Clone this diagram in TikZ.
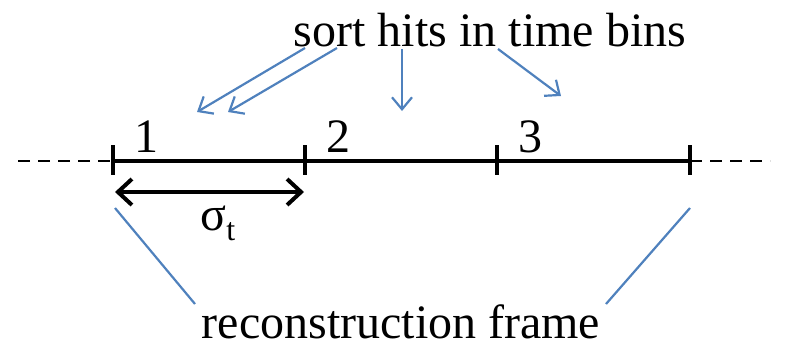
\documentclass[tikz,border=0pt]{standalone}
\usepackage{fontspec}
\setmainfont{Liberation Serif}
\usepackage{xcolor}
\usetikzlibrary{arrows.meta,positioning,calc}
\definecolor{hitblue}{RGB}{79,129,189}

\begin{document}
\begin{tikzpicture}[x=0.5pt,y=-0.5pt,
    lbl/.style={inner sep=0pt,font=\fontsize{24}{28}\selectfont},
    binline/.style={line width=2pt,black},
    tick/.style={line width=1.6pt,black},
    sortarrow/.style={hitblue,line width=1.1pt,-{Straight Barb[length=6pt,width=10pt]}},
    frameline/.style={hitblue,line width=1.1pt}]
    \useasboundingbox (0,0) rectangle (786,349);
    % time axis
    \coordinate (t0) at (113,161); \coordinate (t1) at (305,161);
    \coordinate (t2) at (497,161); \coordinate (t3) at (690,161);
    \coordinate (dl) at (18,161); \coordinate (dr) at (770,161);
    \draw[line width=1pt,dashed,dash pattern=on 6pt off 4pt] (dl) -- (t0);
    \draw[line width=1pt,dashed,dash pattern=on 6pt off 4pt] (t3) -- (dr);
    \draw[binline] (t0) -- (t3);
    \foreach \t in {t0,t1,t2,t3} \draw[tick] ($(\t)+(0,-16)$) -- ($(\t)+(0,14)$);
    \node[lbl] (b1) at (146,137) {1};
    \node[lbl] (b2) at (338,137) {2};
    \node[lbl] (b3) at (530,137) {3};
    % bin width
    \coordinate (w0) at (115,192); \coordinate (w1) at (304,192);
    \draw[binline,{Straight Barb[length=7pt,width=13pt]}-{Straight Barb[length=7pt,width=13pt]}] (w0) -- (w1);
    \node[lbl] (sig) at (218,223) {σ\raisebox{-0.45ex}{\fontsize{16}{16}\selectfont t}};
    % sorting
    \node[lbl] (sort) at (490,30) {sort hits in time bins};
    \coordinate (s1) at (305,48); \coordinate (e1) at (197,112);
    \coordinate (s2) at (337,48); \coordinate (e2) at (228,112);
    \coordinate (s3) at (402,49); \coordinate (e3) at (402,111);
    \coordinate (s4) at (498,49); \coordinate (e4) at (561,96);
    \draw[sortarrow] (s1) -- (e1);
    \draw[sortarrow] (s2) -- (e2);
    \draw[sortarrow] (s3) -- (e3);
    \draw[sortarrow] (s4) -- (e4);
    % frame
    \node[lbl] (frame) at (401,322) {reconstruction frame};
    \coordinate (fl0) at (115,208); \coordinate (fl1) at (195,304);
    \coordinate (fr0) at (690,208); \coordinate (fr1) at (606,304);
    \draw[frameline] (fl0) -- (fl1);
    \draw[frameline] (fr0) -- (fr1);
\end{tikzpicture}
\end{document}
